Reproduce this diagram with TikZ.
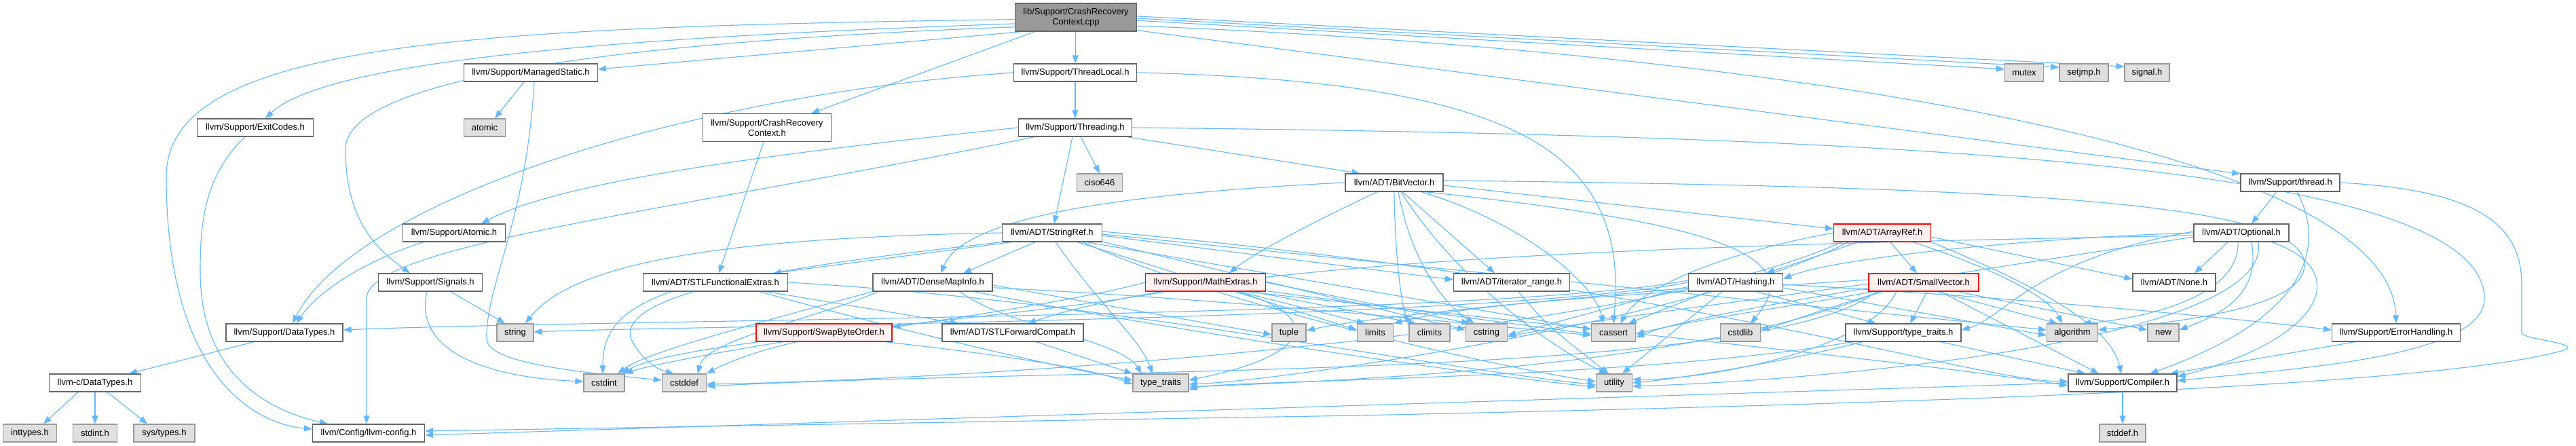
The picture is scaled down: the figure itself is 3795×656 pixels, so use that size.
\documentclass[tikz,border=0pt]{standalone}
\usepackage{fontspec}
\setmainfont{Liberation Sans}
\usetikzlibrary{arrows.meta,backgrounds}
\definecolor{eb}{HTML}{63B8FF}
\definecolor{bd}{HTML}{666666}
\definecolor{gb}{HTML}{999999}
\definecolor{gf}{HTML}{E0E0E0}
\definecolor{rf}{HTML}{FFF0F0}
\definecolor{rootf}{HTML}{999999}
\newcommand\nodefont{\fontsize{13}{15}\selectfont}
\tikzset{
  base/.style={rectangle, minimum height=26pt, inner sep=0pt, line width=1.2pt, font=\nodefont},
  wn/.style={base, draw=bd, fill=white},
  gn/.style={base, draw=gb, fill=gf},
  rn/.style={base, draw=red, fill=rf},
  rootn/.style={base, draw=bd, fill=rootf, minimum height=41pt, align=center},
  e/.style={draw=eb, line width=1.1pt, -{Stealth[length=12pt,width=9pt,inset=0pt]}}
}
\begin{document}
\begin{tikzpicture}[x=1pt,y=1pt]
\useasboundingbox (0,0) rectangle (3795,-656);
% nodes
\node[rootn, minimum width=179pt] (R) at (1585,-25.5) {lib/Support/CrashRecovery\\Context.cpp};
\node[wn, minimum width=197pt] (MS) at (782,-107) {llvm/Support/ManagedStatic.h};
\node[wn, minimum width=181pt] (TL) at (1584,-107) {llvm/Support/ThreadLocal.h};
\node[gn, minimum width=57pt] (mutex) at (2982,-107) {mutex};
\node[gn, minimum width=72pt] (setjmp) at (3070,-107) {setjmp.h};
\node[gn, minimum width=66pt] (signal) at (3163,-107) {signal.h};
\node[wn, minimum width=171pt] (EC) at (376,-188) {llvm/Support/ExitCodes.h};
\node[gn, minimum width=61pt] (atomic) at (714,-188) {atomic};
\node[wn, minimum width=189pt, minimum height=41pt, align=center] (CRCh) at (1130,-188) {llvm/Support/CrashRecovery\\Context.h};
\node[wn, minimum width=167pt] (TH) at (1584,-188) {llvm/Support/Threading.h};
\node[gn, minimum width=67pt] (ciso) at (1620,-269) {ciso646};
\node[wn, minimum width=144pt] (BV) at (2054,-269) {llvm/ADT/BitVector.h};
\node[wn, minimum width=146pt] (TD) at (3374,-269) {llvm/Support/thread.h};
\node[wn, minimum width=151pt] (AT) at (669,-343) {llvm/Support/Atomic.h};
\node[wn, minimum width=147pt] (SR) at (1550,-343) {llvm/ADT/StringRef.h};
\node[rn, minimum width=143pt] (AR) at (2773,-343) {llvm/ADT/ArrayRef.h};
\node[wn, minimum width=140pt] (OP) at (3302,-343) {llvm/ADT/Optional.h};
\node[wn, minimum width=153pt] (SG) at (634,-416) {llvm/Support/Signals.h};
\node[wn, minimum width=213pt] (SFE) at (1054,-416) {llvm/ADT/STLFunctionalExtras.h};
\node[wn, minimum width=176pt] (DMI) at (1374,-416) {llvm/ADT/DenseMapInfo.h};
\node[rn, minimum width=177pt] (ME) at (1776,-416) {llvm/Support/MathExtras.h};
\node[wn, minimum width=171pt] (IR) at (2227,-416) {llvm/ADT/iterator\_range.h};
\node[wn, minimum width=139pt] (HS) at (2557,-416) {llvm/ADT/Hashing.h};
\node[rn, minimum width=162pt] (SV) at (2834,-416) {llvm/ADT/SmallVector.h};
\node[wn, minimum width=122pt] (NO) at (3203,-416) {llvm/ADT/None.h};
\node[wn, minimum width=172pt] (DT) at (419,-490) {llvm/Support/DataTypes.h};
\node[gn, minimum width=54pt] (string) at (759,-490) {string};
\node[rn, minimum width=200pt] (SBO) at (1214,-490) {llvm/Support/SwapByteOrder.h};
\node[wn, minimum width=208pt] (SFC) at (1492,-490) {llvm/ADT/STLForwardCompat.h};
\node[gn, minimum width=50pt] (tuple) at (1899,-490) {tuple};
\node[gn, minimum width=53pt] (limits) at (2026,-490) {limits};
\node[gn, minimum width=60pt] (climits) at (2106,-490) {climits};
\node[gn, minimum width=61pt] (cstring) at (2190,-490) {cstring};
\node[gn, minimum width=65pt] (cassert) at (2377,-490) {cassert};
\node[gn, minimum width=59pt] (cstdlib) at (2564,-490) {cstdlib};
\node[wn, minimum width=170pt] (TT) at (2804,-490) {llvm/Support/type\_traits.h};
\node[gn, minimum width=75pt] (algorithm) at (3053,-490) {algorithm};
\node[gn, minimum width=46pt] (new) at (3187,-490) {new};
\node[wn, minimum width=189pt] (EH) at (3530,-490) {llvm/Support/ErrorHandling.h};
\node[wn, minimum width=135pt] (CDT) at (140,-564) {llvm-c/DataTypes.h};
\node[gn, minimum width=60pt] (cstdint) at (890,-564) {cstdint};
\node[gn, minimum width=65pt] (cstddef) at (1008,-564) {cstddef};
\node[gn, minimum width=82pt] (typetraits) at (1710,-564) {type\_traits};
\node[gn, minimum width=53pt] (utility) at (2378,-564) {utility};
\node[wn, minimum width=160pt] (CP) at (3127,-564) {llvm/Support/Compiler.h};
\node[gn, minimum width=79pt] (inttypes) at (44,-638) {inttypes.h};
\node[gn, minimum width=65pt] (stdint) at (140,-638) {stdint.h};
\node[gn, minimum width=90pt] (systypes) at (242,-638) {sys/types.h};
\node[wn, minimum width=165pt] (LC) at (543,-638) {llvm/Config/llvm-config.h};
\node[gn, minimum width=68pt] (stddef) at (3127,-638) {stddef.h};

\begin{pgfonlayer}{background}
\fill[white] (0,0) rectangle (3795,-656);
% root
\draw[e] (R.182) .. controls (700,-40) and (245,-60) .. (245,-260) .. controls (245,-560) and (380,-625) .. ([yshift=6pt]LC.west);
\draw[e] (R.186) .. controls (900,-55) and (480,-90) .. ([xshift=15pt]EC.north);
\draw[e] (R.189) .. controls (950,-60) and (509,-110) .. (509,-220) .. controls (509,-330) and (560,-370) .. ([xshift=-30pt]SG.north);
\draw[e] (R.195) -- ([yshift=5pt]MS.east);
\draw[e] ([xshift=30pt]R.south west) -- ([xshift=65pt]CRCh.north);
\draw[e] (R) -- (TL);
\draw[e] (R.-3) -- (mutex.170);
\draw[e] (R.-1) -- (setjmp.168);
\draw[e] (R.1) -- (signal.165);
\draw[e] (R.-8) .. controls (2500,-70) and (3520,-200) .. (EH.north);
\draw[e] (R.-12) -- (TD.170);
% ThreadLocal
\draw[e] (TL) -- (TH);
\draw[e] (TL.west) .. controls (1000,-140) and (520,-300) .. ([xshift=12pt]DT.north);
\draw[e] (TL.east) .. controls (2250,-120) and (2400,-230) .. (cassert.north);
% Threading
\draw[e] ([xshift=8pt]TH.south) -- (ciso.north);
\draw[e] ([xshift=-4pt]TH.south) -- ([xshift=3pt]SR.north);
\draw[e] ([xshift=-8pt]TH.south east) -- (BV.165);
\draw[e] (TH.east) .. controls (2800,-200) and (3660,-240) .. (3660,-440) .. controls (3660,-530) and (3350,-545) .. ([yshift=3pt]CP.east);
\draw[e] (TH.west) .. controls (1100,-230) and (820,-270) .. ([xshift=40pt]AT.north);
\draw[e] ([xshift=-60pt]TH.south) .. controls (1000,-310) and (540,-360) .. (540,-440) -- ([xshift=-3pt]LC.north);
% ManagedStatic
\draw[e] ([xshift=-10pt]MS.south) -- ([xshift=15pt]atomic.north);
\draw[e] ([xshift=5pt]MS.south) .. controls (775,-330) and (715,-420) .. (717,-500) .. controls (720,-535) and (850,-548) .. ([yshift=4pt]cstddef.west);
% ExitCodes
\draw[e] ([xshift=-15pt]EC.south) .. controls (300,-260) and (295,-330) .. (295,-400) .. controls (295,-570) and (420,-610) .. ([xshift=-60pt]LC.north);
% CrashRecoveryContext.h
\draw[e] ([xshift=-5pt]CRCh.south) -- ([xshift=5pt]SFE.north);
% Atomic
\draw[e] ([xshift=-45pt]AT.south) .. controls (520,-390) and (460,-440) .. ([xshift=18pt]DT.north);
% Signals
\draw[e] ([xshift=30pt]SG.south) -- ([xshift=-15pt]string.north);
\draw[e] ([xshift=-5pt]SG.south) .. controls (610,-510) and (700,-555) .. ([yshift=2pt]cstdint.west);
% DataTypes
\draw[e] ([xshift=-45pt]DT.south) -- ([xshift=50pt]CDT.north);
\draw[e] ([xshift=-25pt]CDT.south) -- ([xshift=20pt]inttypes.north);
\draw[e] (CDT.south) -- (stdint.north);
\draw[e] ([xshift=18pt]CDT.south) -- ([xshift=-25pt]systypes.north);
% BitVector
\draw[e] ([yshift=-4pt]BV.east) -- ([yshift=6pt]AR.west);
\draw[e] (BV.west) .. controls (1650,-285) and (1420,-320) .. ([xshift=12pt]DMI.north);
\draw[e] ([xshift=-25pt]BV.south) .. controls (1950,-320) and (1850,-370) .. ([xshift=35pt]ME.north);
\draw[e] ([xshift=12pt]BV.south) -- ([xshift=-25pt]IR.north);
\draw[e] ([yshift=3pt]BV.east) .. controls (3000,-275) and (3395,-300) .. (3395,-390) .. controls (3395,-455) and (3200,-475) .. ([yshift=4pt]algorithm.east);
\draw[e] ([xshift=40pt]BV.south) .. controls (2250,-330) and (2350,-420) .. ([xshift=-15pt]cassert.north);
\draw[e] (BV.south) .. controls (2055,-380) and (2065,-450) .. (climits.north west);
\draw[e] ([xshift=6pt]BV.south) .. controls (2080,-390) and (2130,-450) .. ([xshift=-18pt]cstring.north);
\draw[e] ([xshift=45pt]BV.south) .. controls (2550,-330) and (2660,-380) .. ([xshift=15pt]cstdlib.north);
\draw[e] ([xshift=10pt]BV.south) .. controls (2150,-420) and (2300,-520) .. ([xshift=-10pt]utility.north);
% StringRef
\draw[e] (SR.west) .. controls (1100,-350) and (850,-380) .. ([xshift=15pt]string.north);
\draw[e] ([xshift=-60pt]SR.south) -- ([xshift=85pt]SFE.north);
\draw[e] ([xshift=-25pt]SR.south) -- ([xshift=45pt]DMI.north);
\draw[e] ([yshift=-4pt]SR.east) -- ([yshift=4pt]IR.west);
\draw[e] ([yshift=2pt]SR.east) .. controls (2500,-420) and (2900,-560) .. ([yshift=2pt]CP.west);
\draw[e] ([yshift=-2pt]SR.east) -- ([yshift=4pt]algorithm.west);
\draw[e] (SR.-15) -- ([yshift=5pt]cassert.west);
\draw[e] (SR.south west) .. controls (1270,-380) and (900,-420) .. (930,-500) .. controls (945,-530) and (970,-545) .. ([xshift=-15pt]cstddef.north);
\draw[e] (SR.-10) -- ([yshift=4pt]cstring.west);
\draw[e] (SR.-20) -- ([yshift=4pt]limits.west);
\draw[e] ([xshift=5pt]SR.south) .. controls (1620,-450) and (1680,-500) .. ([xshift=-12pt]typetraits.north);
\draw[e] ([xshift=45pt]SR.south) .. controls (1800,-450) and (2200,-540) .. ([yshift=2pt]utility.west);
% STLFunctionalExtras
\draw[e] ([xshift=75pt]SFE.south) -- ([xshift=-80pt]SFC.north);
\draw[e] ([xshift=-65pt]SFE.south) .. controls (900,-460) and (888,-500) .. ([xshift=-2pt]cstdint.north);
\draw[e] ([xshift=65pt]SFE.south) .. controls (1300,-480) and (1550,-540) .. ([yshift=4pt]typetraits.west);
\draw[e] (SFE.east) .. controls (1600,-440) and (2100,-540) .. ([yshift=-3pt]utility.west);
% DenseMapInfo
\draw[e] ([yshift=-4pt]DMI.east) -- ([yshift=-3pt]tuple.west);
\draw[e] ([xshift=-80pt]DMI.south) .. controls (1200,-470) and (1040,-500) .. ([xshift=20pt]cstddef.north);
\draw[e] (DMI.south west) .. controls (1100,-480) and (950,-520) .. ([xshift=20pt]cstdint.north);
\draw[e] ([xshift=40pt]DMI.south) .. controls (1480,-480) and (1650,-500) .. ([xshift=-28pt]typetraits.north);
\draw[e] ([xshift=60pt]DMI.south) .. controls (1800,-500) and (2200,-555) .. ([yshift=-6pt]utility.west);
\draw[e] (DMI.-5) .. controls (1800,-440) and (2200,-480) .. ([yshift=-4pt]cassert.west);
% MathExtras
\draw[e] (ME.west) .. controls (1600,-440) and (1400,-470) .. ([yshift=8pt]SBO.east);
\draw[e] ([xshift=60pt]ME.south) .. controls (2200,-470) and (2800,-530) .. ([yshift=-4pt]CP.west);
\draw[e] ([xshift=50pt]ME.south) -- ([xshift=-15pt]limits.north);
\draw[e] ([xshift=70pt]ME.south) -- ([xshift=-20pt]climits.north);
\draw[e] (ME.east) -- ([xshift=-25pt]cstring.north);
\draw[e] (ME.-8) -- ([yshift=-2pt]cassert.west);
\draw[e] ([xshift=-60pt]ME.south) .. controls (1500,-470) and (1000,-500) .. ([xshift=26pt]cstdint.north);
\draw[e] ([xshift=45pt]ME.south) .. controls (1940,-460) and (1950,-520) .. ([yshift=4pt]typetraits.east);
% SwapByteOrder
\draw[e] ([xshift=-40pt]SBO.south) .. controls (1100,-520) and (1060,-540) .. (cstddef.north east);
\draw[e] ([xshift=-60pt]SBO.south) .. controls (1050,-520) and (950,-540) .. (cstdint.north east);
\draw[e] ([xshift=90pt]SBO.south) .. controls (1450,-520) and (1600,-540) .. ([yshift=-2pt]typetraits.west);
% STLForwardCompat
\draw[e] ([xshift=35pt]SFC.south) -- (typetraits.north west);
% iterator_range
\draw[e] ([xshift=10pt]IR.south) .. controls (2280,-480) .. ([xshift=-8pt]utility.north);
% ArrayRef
\draw[e] ([xshift=-35pt]AR.south) -- ([xshift=45pt]HS.north);
\draw[e] ([xshift=12pt]AR.south) -- ([xshift=-10pt]SV.north);
\draw[e] ([yshift=-6pt]AR.east) -- ([yshift=5pt]NO.west);
\draw[e] (AR.west) .. controls (2550,-370) and (2420,-420) .. ([xshift=10pt]cassert.north);
\draw[e] ([xshift=45pt]AR.south) .. controls (2950,-400) and (3020,-440) .. ([xshift=-15pt]algorithm.north);
\draw[e] (AR.south east) .. controls (3000,-420) and (3110,-480) .. ([xshift=-2pt]CP.north);
\draw[e] ([xshift=-60pt]AR.south) .. controls (2400,-500) and (1400,-560) .. ([yshift=-2pt]cstddef.east);
\draw[e] ([xshift=-50pt]AR.south) .. controls (2500,-470) and (1900,-560) .. ([yshift=-2pt]typetraits.east);
% Hashing
\draw[e] ([xshift=30pt]HS.south) -- ([xshift=-40pt]TT.north);
\draw[e] ([xshift=-20pt]HS.south) -- ([xshift=12pt]utility.north);
\draw[e] ([xshift=-40pt]HS.south) -- ([xshift=22pt]cassert.north);
\draw[e] ([yshift=3pt]HS.west) .. controls (2200,-468) and (900,-470) .. ([yshift=4pt]DT.east);
\draw[e] (HS.west) .. controls (2200,-472) and (1000,-480) .. ([yshift=1pt]string.east);
\draw[e] ([yshift=-3pt]HS.east) .. controls (3000,-440) and (3300,-470) .. ([yshift=4pt]EH.west);
\draw[e] ([yshift=-6pt]HS.west) -- ([yshift=-4pt]cstring.east);
\draw[e] ([yshift=-8pt]HS.east) -- ([yshift=-4pt]algorithm.west);
\draw[e] ([yshift=-8pt]HS.west) .. controls (2200,-450) and (2000,-470) .. ([yshift=3pt]tuple.east);
% SmallVector
\draw[e] ([xshift=5pt]SV.south) -- ([xshift=10pt]TT.north);
\draw[e] ([xshift=20pt]SV.south) -- ([xshift=-22pt]algorithm.north);
\draw[e] ([xshift=50pt]SV.south) -- ([yshift=4pt]new.west);
\draw[e] ([xshift=25pt]SV.south) -- ([xshift=-35pt]CP.north);
\draw[e] ([xshift=-60pt]SV.south) .. controls (2700,-450) and (2620,-480) .. ([yshift=4pt]cstdlib.east);
\draw[e] ([xshift=-75pt]SV.south) .. controls (2650,-450) and (2500,-470) .. ([yshift=-2pt]cassert.east);
\draw[e] ([yshift=-2pt]SV.west) .. controls (2600,-440) and (2350,-470) .. ([yshift=-6pt]cstring.east);
\draw[e] ([yshift=4pt]SV.west) .. controls (2500,-430) and (2200,-440) .. (limits.north east);
\draw[e] ([xshift=-70pt]SV.south) .. controls (2600,-560) and (1600,-540) .. ([yshift=-5pt]cstddef.east);
\draw[e] ([xshift=-65pt]SV.south) .. controls (2500,-540) and (2000,-560) .. ([yshift=-6pt]typetraits.east);
\draw[e] ([xshift=-40pt]SV.south) .. controls (2750,-520) and (2500,-560) .. ([yshift=5pt]utility.east);
% type_traits.h
\draw[e] ([xshift=55pt]TT.south) -- ([xshift=-55pt]CP.north);
\draw[e] ([xshift=-60pt]TT.south) .. controls (2600,-540) and (2450,-560) .. ([yshift=0pt]utility.east);
\draw[e] ([xshift=-75pt]TT.south) .. controls (2400,-560) and (1800,-560) .. ([yshift=-10pt]typetraits.east);
% Optional
\draw[e] ([xshift=-20pt]OP.south) -- ([xshift=30pt]NO.north);
\draw[e] (OP.west) .. controls (3000,-350) and (2700,-380) .. ([yshift=5pt]HS.east);
\draw[e] ([yshift=-4pt]OP.west) .. controls (2500,-360) and (1800,-380) .. ([xshift=22pt]SFC.north);
\draw[e] ([yshift=2pt]OP.west) .. controls (3000,-380) and (2950,-470) .. ([yshift=4pt]TT.east);
\draw[e] ([xshift=15pt]OP.south) .. controls (3330,-430) and (3280,-460) .. ([yshift=4pt]new.east);
\draw[e] ([xshift=45pt]OP.south) .. controls (3470,-400) and (3420,-500) .. ([yshift=9pt]CP.east);
\draw[e] ([xshift=-5pt]OP.south) .. controls (3300,-440) and (3150,-470) .. ([xshift=15pt]algorithm.north);
\draw[e] ([xshift=25pt]OP.south) .. controls (3350,-500) and (2700,-560) .. ([yshift=-5pt]utility.east);
\draw[e] ([yshift=-6pt]OP.west) .. controls (2900,-400) and (2500,-460) .. ([yshift=-7pt]cassert.east);
% thread.h
\draw[e] ([xshift=-20pt]TD.south) -- ([xshift=15pt]OP.north);
\draw[e] (TD.east) .. controls (3650,-280) and (3715,-330) .. (3715,-420) -- (3715,-490) .. controls (3715,-500) and (3800,-505) .. (3780,-515) .. controls (3600,-570) and (2800,-595) .. (2000,-612) -- ([yshift=3pt]LC.east);
\draw[e] ([xshift=10pt]TD.south) .. controls (3420,-350) and (3420,-460) .. ([xshift=40pt]CP.north);
% ErrorHandling
\draw[e] ([xshift=-60pt]EH.south) -- ([xshift=70pt]CP.north);
% Compiler
\draw[e] (CP.west) -- ([yshift=-3pt]LC.east);
\draw[e] (CP.south) -- (stddef.north);
\end{pgfonlayer}
\end{tikzpicture}
\end{document}
